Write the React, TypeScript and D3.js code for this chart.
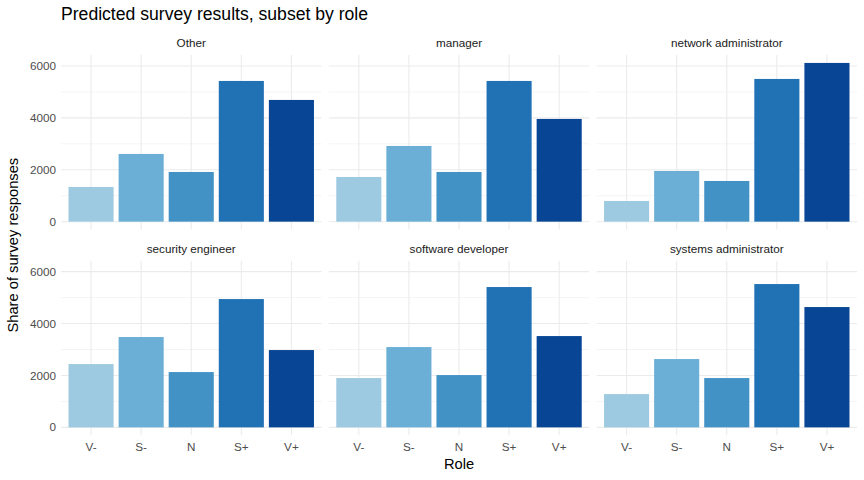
import React from "react";
import * as d3 from "d3";

const categories = ["V-", "S-", "N", "S+", "V+"];
const roles = ["Other", "manager", "network administrator", "security engineer", "software developer", "systems administrator"];
const otherValues = [1337, 2609, 1915, 5422, 4690];
const managerValues = [1722, 2917, 1915, 5422, 3958];
const networkValues = [798, 1954, 1568, 5499, 6116];
const securityValues = [2439, 3480, 2131, 4944, 2979];
const softwareValues = [1900, 3094, 2015, 5407, 3518];
const systemsValues = [1283, 2632, 1900, 5522, 4636];
const yTicks = [0, 2000, 4000, 6000];
const yMinor = [1000, 3000, 5000];
const colors = ["#9ECAE1", "#6BAED6", "#4292C6", "#2171B5", "#084594"];

const seriesByRole = [otherValues, managerValues, networkValues, securityValues, softwareValues, systemsValues];

const W = 864, H = 480;
const FONT = "'Liberation Sans', Arial, sans-serif";

export default function App() {
  const left = 61, right = 857, gap = 7.3;
  const pw = (right - left - 2 * gap) / 3;
  const rowTops = [55, 260.7];
  const ph = 174.6;
  const maxV = d3.max(seriesByRole.flat()) as number;
  const pad = maxV * 0.05;
  const y0 = d3.scaleLinear().domain([-pad, maxV + pad]);
  const x0 = d3.scaleBand().domain(categories).paddingInner(0.1).paddingOuter(0.15);

  const panels = roles.map((role, i) => {
    const col = i % 3, row = Math.floor(i / 3);
    const px = left + col * (pw + gap);
    const py = rowTops[row];
    const y = y0.copy().range([py + ph, py]);
    const x = x0.copy().range([px, px + pw]);
    const vals = seriesByRole[i];
    return (
      <g key={role}>
        {yMinor.map((t) => (
          <line key={"m" + t} x1={px} x2={px + pw} y1={y(t)} y2={y(t)} stroke="#EBEBEB" strokeWidth={0.55} />
        ))}
        {yTicks.map((t) => (
          <line key={"g" + t} x1={px} x2={px + pw} y1={y(t)} y2={y(t)} stroke="#EBEBEB" strokeWidth={1.07} />
        ))}
        {categories.map((c) => (
          <line key={"v" + c} x1={x(c)! + x.bandwidth() / 2} x2={x(c)! + x.bandwidth() / 2} y1={py} y2={py + ph} stroke="#EBEBEB" strokeWidth={1.07} />
        ))}
        {categories.map((c, j) => (
          <rect key={"b" + c} x={x(c)} width={x.bandwidth()} y={y(vals[j])} height={y(0) - y(vals[j])} fill={colors[j]} />
        ))}
        <text x={px + pw / 2} y={py - 8} textAnchor="middle" fontSize={11.7} fill="#1A1A1A" fontFamily={FONT}>{role}</text>
        {col === 0 && yTicks.map((t) => (
          <text key={"yt" + t} x={px - 5} y={y(t)} dy="0.35em" textAnchor="end" fontSize={11.7} fill="#4D4D4D" fontFamily={FONT}>{t}</text>
        ))}
        {row === 1 && categories.map((c) => (
          <text key={"xt" + c} x={x(c)! + x.bandwidth() / 2} y={py + ph + 16} textAnchor="middle" fontSize={11.7} fill="#4D4D4D" fontFamily={FONT}>{c}</text>
        ))}
      </g>
    );
  });

  return (
    <svg width={W} height={H} style={{ display: "block", position: "absolute", left: 0, top: 0 }}>
      <rect width={W} height={H} fill="white" />
      <text x={61} y={20} fontSize={17.6} fill="#000" fontFamily={FONT}>Predicted survey results, subset by role</text>
      {panels}
      <text x={(left + right) / 2} y={469} textAnchor="middle" fontSize={14.7} fill="#000" fontFamily={FONT}>Role</text>
      <text transform={`translate(18, ${(55 + 435.3) / 2}) rotate(-90)`} textAnchor="middle" fontSize={14.7} fill="#000" fontFamily={FONT}>Share of survey responses</text>
    </svg>
  );
}
